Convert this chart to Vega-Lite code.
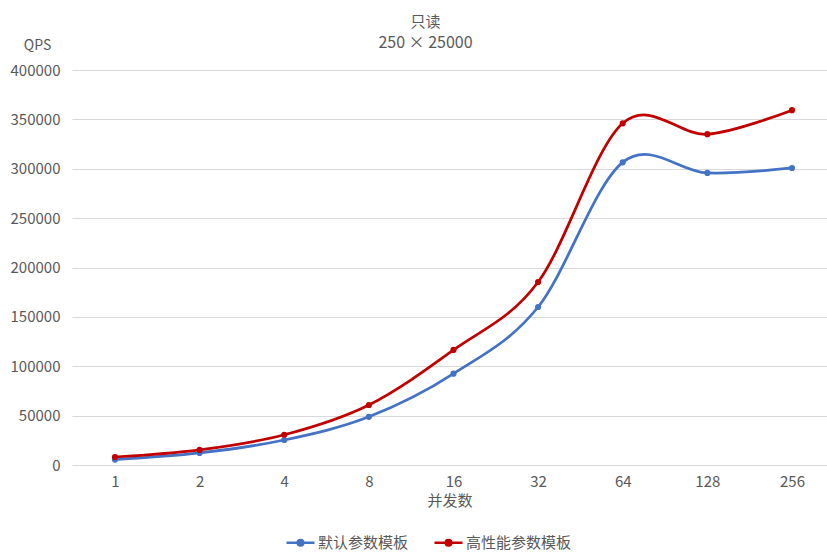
{
  "$schema": "https://vega.github.io/schema/vega-lite/v6.json",
  "width": 755,
  "height": 395,
  "autosize": "none",
  "padding": {"left": 72, "top": 70, "right": 0, "bottom": 87},
  "background": "white",
  "config": {
    "font": "Noto Sans CJK SC",
    "view": {"stroke": null}
  },
  "title": {
    "text": "只读",
    "subtitle": "250 × 25000",
    "anchor": "middle",
    "dx": -24,
    "offset": -13,
    "fontSize": 15,
    "fontWeight": "normal",
    "color": "#595959",
    "subtitleFontSize": 16,
    "subtitleColor": "#595959",
    "subtitlePadding": 5
  },
  "data": {
    "values": [
      {"c": "1", "s": "默认参数模板", "v": 5500},
      {"c": "2", "s": "默认参数模板", "v": 12200},
      {"c": "4", "s": "默认参数模板", "v": 25300},
      {"c": "8", "s": "默认参数模板", "v": 48800},
      {"c": "16", "s": "默认参数模板", "v": 92500},
      {"c": "32", "s": "默认参数模板", "v": 160000},
      {"c": "64", "s": "默认参数模板", "v": 306500},
      {"c": "128", "s": "默认参数模板", "v": 295800},
      {"c": "256", "s": "默认参数模板", "v": 300800},
      {"c": "1", "s": "高性能参数模板", "v": 8100},
      {"c": "2", "s": "高性能参数模板", "v": 15300},
      {"c": "4", "s": "高性能参数模板", "v": 30600},
      {"c": "8", "s": "高性能参数模板", "v": 60800},
      {"c": "16", "s": "高性能参数模板", "v": 116500},
      {"c": "32", "s": "高性能参数模板", "v": 185300},
      {"c": "64", "s": "高性能参数模板", "v": 346000},
      {"c": "128", "s": "高性能参数模板", "v": 335000},
      {"c": "256", "s": "高性能参数模板", "v": 359300}
    ]
  },
  "encoding": {
    "x": {
      "field": "c",
      "type": "ordinal",
      "sort": null,
      "scale": {"type": "point", "padding": 0.461, "align": 0.551},
      "axis": {
        "title": "并发数",
        "titleFontSize": 15,
        "titleFontWeight": "normal",
        "titleColor": "#595959",
        "titlePadding": 4,
        "labelAngle": 0,
        "labelFontSize": 15,
        "labelColor": "#595959",
        "labelPadding": 9,
        "ticks": false,
        "domain": false,
        "grid": false
      }
    },
    "y": {
      "field": "v",
      "type": "quantitative",
      "scale": {"domain": [0, 400000]},
      "axis": {
        "title": "QPS",
        "titleAngle": 0,
        "titleAlign": "center",
        "titleBaseline": "middle",
        "titleX": -35,
        "titleY": -25,
        "titleFontSize": 14,
        "titleFontWeight": "normal",
        "titleColor": "#595959",
        "values": [0, 50000, 100000, 150000, 200000, 250000, 300000, 350000, 400000],
        "format": "d",
        "labelFontSize": 15,
        "labelColor": "#595959",
        "labelPadding": 12,
        "ticks": false,
        "domain": false,
        "grid": true,
        "gridColor": "#D9D9D9",
        "gridWidth": 1
      }
    },
    "color": {
      "field": "s",
      "type": "nominal",
      "sort": ["默认参数模板", "高性能参数模板"],
      "scale": {"domain": ["默认参数模板", "高性能参数模板"], "range": ["#4472C4", "#C00000"]},
      "legend": {
        "title": null,
        "orient": "none",
        "legendX": 213,
        "legendY": 457,
        "direction": "horizontal",
        "labelFontSize": 15,
        "labelColor": "#595959",
        "labelOffset": 2,
        "columnPadding": 20,
        "symbolType": "M-1,0H1M-0.2,0A0.2,0.2,0,1,1,0.2,0A0.2,0.2,0,1,1,-0.2,0",
        "symbolSize": 784,
        "symbolStrokeWidth": 2.5,
        "encode": {
          "symbols": {"update": {"fill": {"scale": "color", "field": "value"}}}
        }
      }
    }
  },
  "layer": [
    {
      "mark": {"type": "line", "interpolate": "cardinal", "strokeWidth": 2.75}
    },
    {
      "mark": {"type": "point", "filled": true, "opacity": 1, "size": 38}
    }
  ]
}
